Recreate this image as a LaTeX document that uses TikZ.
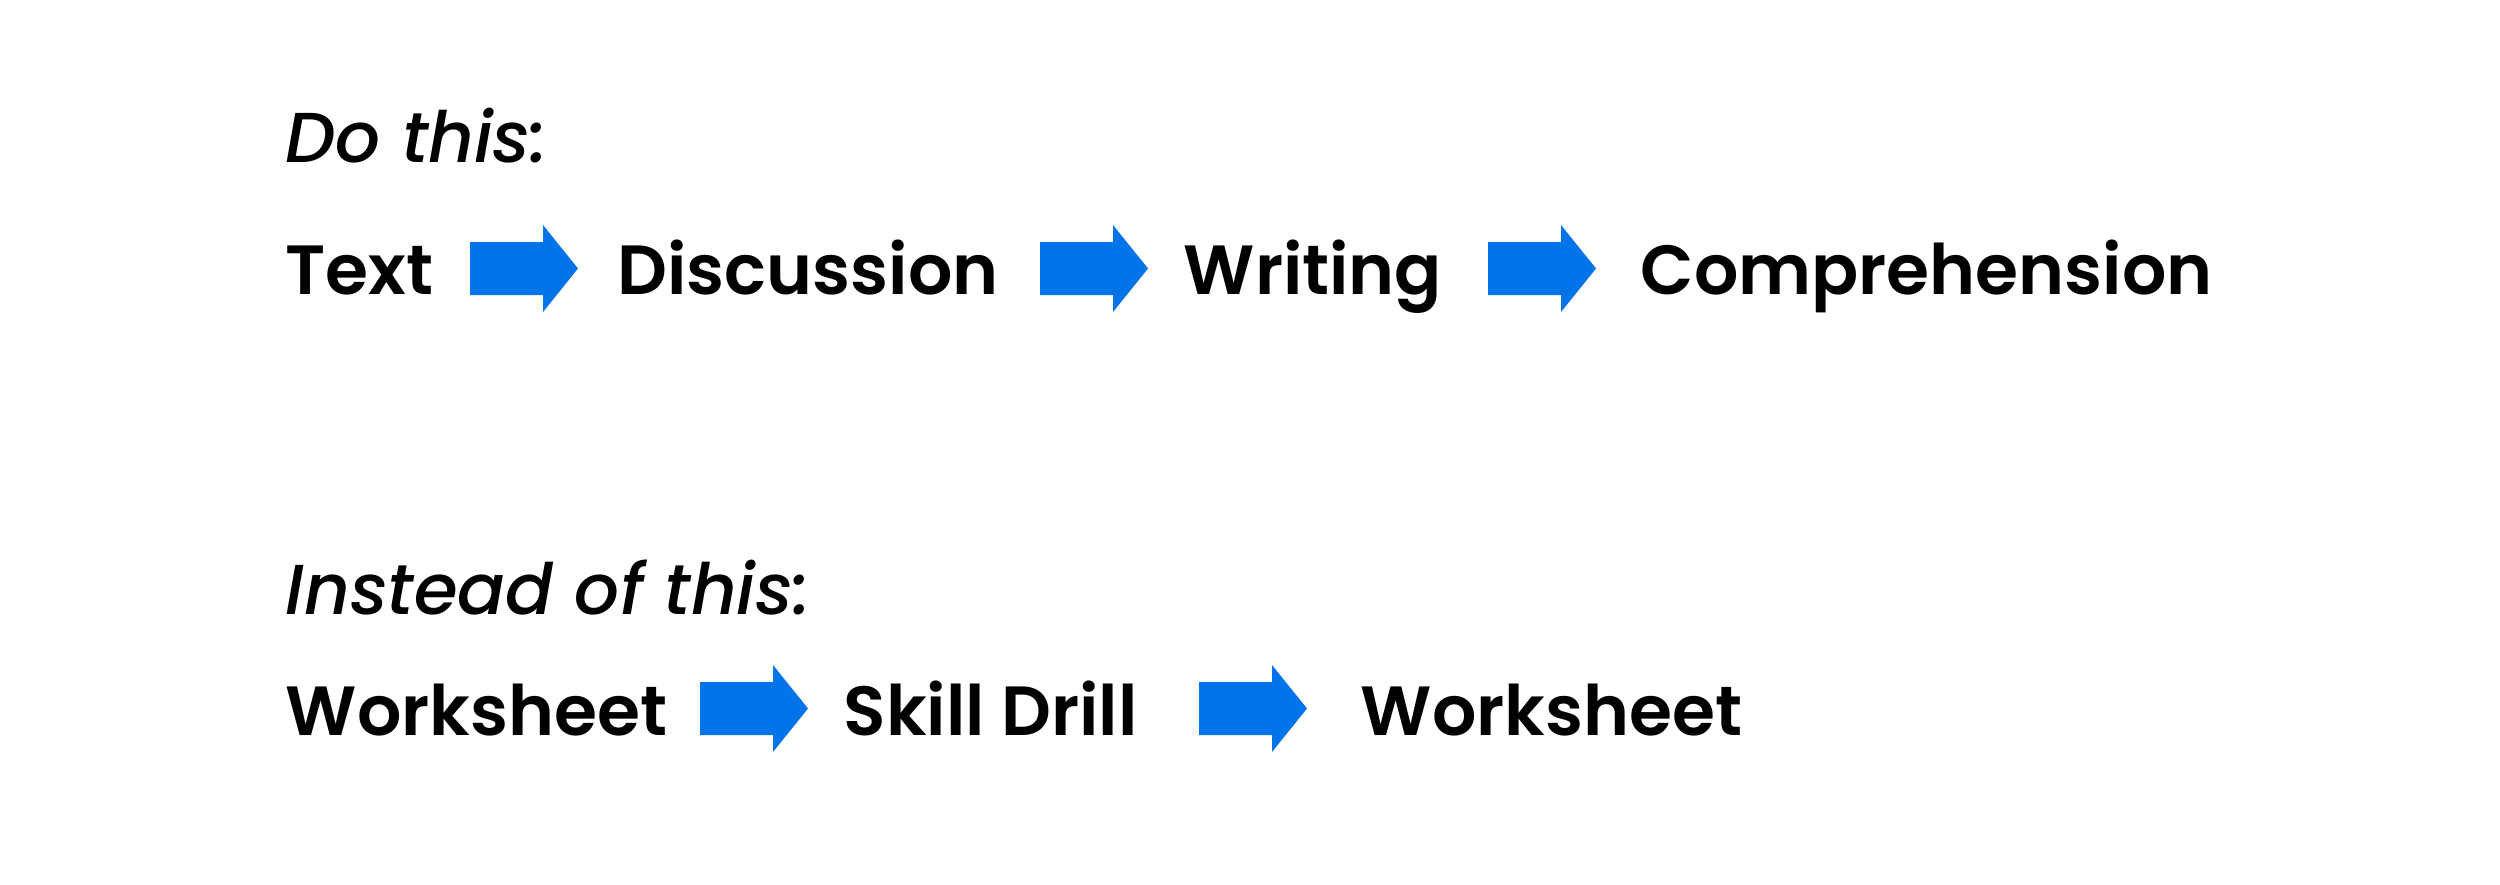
\documentclass[tikz,border=0pt]{standalone}
\usepackage{fontspec}
\setmainfont{Poppins}[BoldFont={Poppins SemiBold},ItalicFont={Poppins Medium Italic}]
\definecolor{arrowblue}{HTML}{0074E8}
\tikzset{
  head/.style={anchor=base west, inner sep=0pt, font=\fontsize{20.1}{24}\selectfont\itshape},
  item/.style={anchor=base west, inner sep=0pt, font=\fontsize{19.8}{24}\selectfont\bfseries},
}
\newcommand{\blockarrow}[4]{% name, left x, center y, scale
  \fill[arrowblue] (#2,#3-26.5*#4) -- ++(73*#4,0) -- ++(0,-17*#4) -- (#2+108*#4,#3) -- (#2+73*#4,#3+43.5*#4) -- ++(0,-17*#4) -- (#2,#3+26.5*#4) -- cycle;
  \coordinate (#1) at (#2+54*#4,#3);
}
\begin{document}
\begin{tikzpicture}[x=0.01cm,y=-0.01cm]
\useasboundingbox (0,0) rectangle (2500,884);
\node[head] (do) at (285,162) {Do this:};
\node[item] (text) at (285,294) {Text};
\node[item] (disc) at (617,294) {Discussion};
\node[item] (writ) at (1183,294) {Writing};
\node[item] (comp) at (1640,294) {Comprehension};
\blockarrow{a1}{470}{268.5}{1}
\blockarrow{a2}{1040}{268.5}{1}
\blockarrow{a3}{1488}{268.5}{1}
\node[head] (inst) at (285,614) {Instead of this:};
\node[item] (ws1) at (285,735) {Worksheet};
\node[item] (sd) at (843,735) {Skill Drill};
\node[item] (ws2) at (1360,735) {Worksheet};
\blockarrow{a4}{700}{708.5}{1}
\blockarrow{a5}{1199}{708.5}{1}
\end{tikzpicture}
\end{document}
